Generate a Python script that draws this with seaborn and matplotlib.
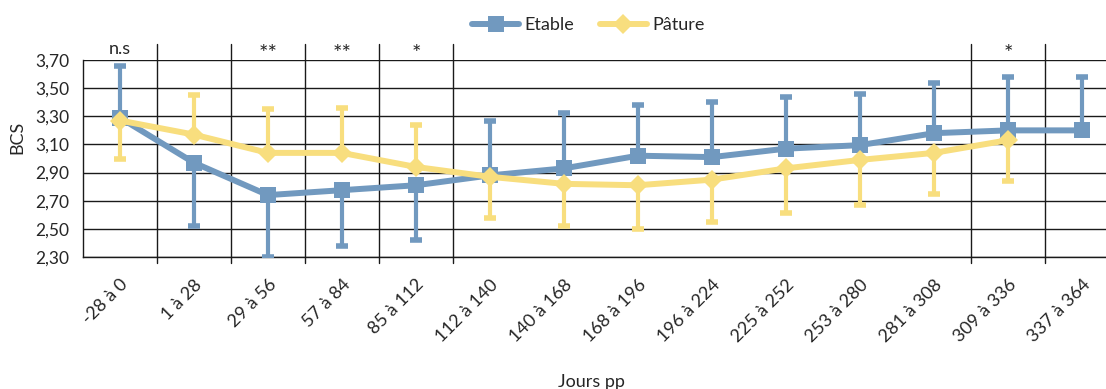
import numpy as np
import pandas as pd
import matplotlib
matplotlib.use("Agg")
import matplotlib.pyplot as plt
import matplotlib.transforms as mtransforms
import seaborn as sns

# Data
periodes = ["-28 à 0", "1 à 28", "29 à 56", "57 à 84", "85 à 112", "112 à 140",
            "140 à 168", "168 à 196", "196 à 224", "225 à 252", "253 à 280",
            "281 à 308", "309 à 336", "337 à 364"]

etable_mean = [3.29, 2.97, 2.74, 2.775, 2.81, 2.88, 2.93, 3.02, 3.01, 3.07, 3.095, 3.18, 3.20, 3.20]
etable_err_minus = [0, 0.45, 0.44, 0.40, 0.39, 0, 0, 0, 0, 0, 0, 0, 0, 0]
etable_err_plus = [0.37, 0, 0, 0, 0, 0.39, 0.39, 0.36, 0.39, 0.37, 0.36, 0.36, 0.38, 0.38]

pature_mean = [3.27, 3.17, 3.04, 3.04, 2.94, 2.87, 2.82, 2.81, 2.85, 2.93, 2.99, 3.04, 3.13, np.nan]
pature_err_minus = [0.27, 0, 0, 0, 0, 0.29, 0.30, 0.31, 0.30, 0.32, 0.32, 0.29, 0.29, 0]
pature_err_plus = [0, 0.28, 0.31, 0.32, 0.30, 0, 0, 0, 0, 0, 0, 0, 0, 0]

# significance per period, and the header separators
signif = ["n.s", "", "**", "**", "*", "", "", "", "", "", "", "", "*", ""]
separators = [0.5, 1.5, 2.5, 3.5, 4.5, 11.5, 12.5]

blue = "#7199BF"
yellow = "#F8DE7E"

sns.set_style("white")
plt.rcParams["font.family"] = ["Lato", "DejaVu Sans"]

df = pd.DataFrame({
    "periode": periodes,
    "x": np.arange(len(periodes)),
    "Etable": etable_mean,
    "Pâture": pature_mean,
})

fig = plt.figure(figsize=(11.06, 3.89), dpi=100)
ax = fig.add_axes([0.075, 0.3393, 0.9367, 0.5064])

# error bars + lines
ax.errorbar(df["x"], df["Etable"], yerr=[etable_err_minus, etable_err_plus],
            fmt="none", ecolor=blue, elinewidth=3, capsize=4.5, capthick=4, zorder=3)
sns.lineplot(data=df, x="x", y="Etable", color=blue, marker="s", markersize=11,
             markeredgewidth=0, linewidth=4.3, label="Etable", ax=ax, zorder=4)
ax.errorbar(df["x"], df["Pâture"], yerr=[pature_err_minus, pature_err_plus],
            fmt="none", ecolor=yellow, elinewidth=3, capsize=4.5, capthick=4, zorder=5)
sns.lineplot(data=df, x="x", y="Pâture", color=yellow, marker="D", markersize=10,
             markeredgewidth=0, linewidth=4.3, label="Pâture", ax=ax, zorder=6)

ax.set_xlim(-0.5, 13.5)
ax.set_ylim(2.30, 3.70)

yt = np.round(np.arange(2.30, 3.71, 0.20), 2)
ax.set_yticks(yt)
ax.set_yticklabels([f"{v:.2f}".replace(".", ",") for v in yt], fontsize=12.5)
ax.yaxis.grid(True, color="#1a1a1a", linewidth=1.0)
ax.xaxis.grid(False)
ax.set_axisbelow(True)

ax.set_xticks(df["x"])
ax.set_xticklabels(periodes, fontsize=13, rotation=45, ha="right", rotation_mode="anchor")
ax.set_xticks(np.arange(-0.5, 13.6, 1), minor=True)
ax.tick_params(axis="x", which="major", length=0, pad=14)
ax.tick_params(axis="x", which="minor", length=6, width=1, color="#1a1a1a", direction="out")
ax.tick_params(axis="y", length=6, width=1, color="#1a1a1a", direction="out", pad=4)

for s in ["top", "right"]:
    ax.spines[s].set_visible(False)
for s in ["left", "bottom"]:
    ax.spines[s].set_color("#1a1a1a")
    ax.spines[s].set_linewidth(1.0)

# header separators extending above the plot
for b in separators:
    ax.axvline(b, ymin=-0.03, ymax=1.081, color="#1a1a1a", linewidth=1.0,
               clip_on=False, zorder=1)

trans = mtransforms.blended_transform_factory(ax.transData, ax.transAxes)
for i, s in enumerate(signif):
    if s == "n.s":
        ax.text(i, 1.055, s, transform=trans, ha="center", va="center", fontsize=13)
    elif s:
        ax.text(i, 1.03, s, transform=trans, ha="center", va="center", fontsize=16)

ax.set_ylabel("BCS", fontsize=13)
ax.yaxis.set_label_coords(-0.056, 0.607)
ax.set_xlabel("Jours pp", fontsize=13)
ax.xaxis.set_label_coords(0.491, -0.594)

ax.legend(loc="center", bbox_to_anchor=(0.532, 0.936), bbox_transform=fig.transFigure,
          ncol=2, frameon=False, fontsize=13, handlelength=2.6, handletextpad=0.3,
          columnspacing=1.4)

fig.savefig("out.png", dpi=100)
